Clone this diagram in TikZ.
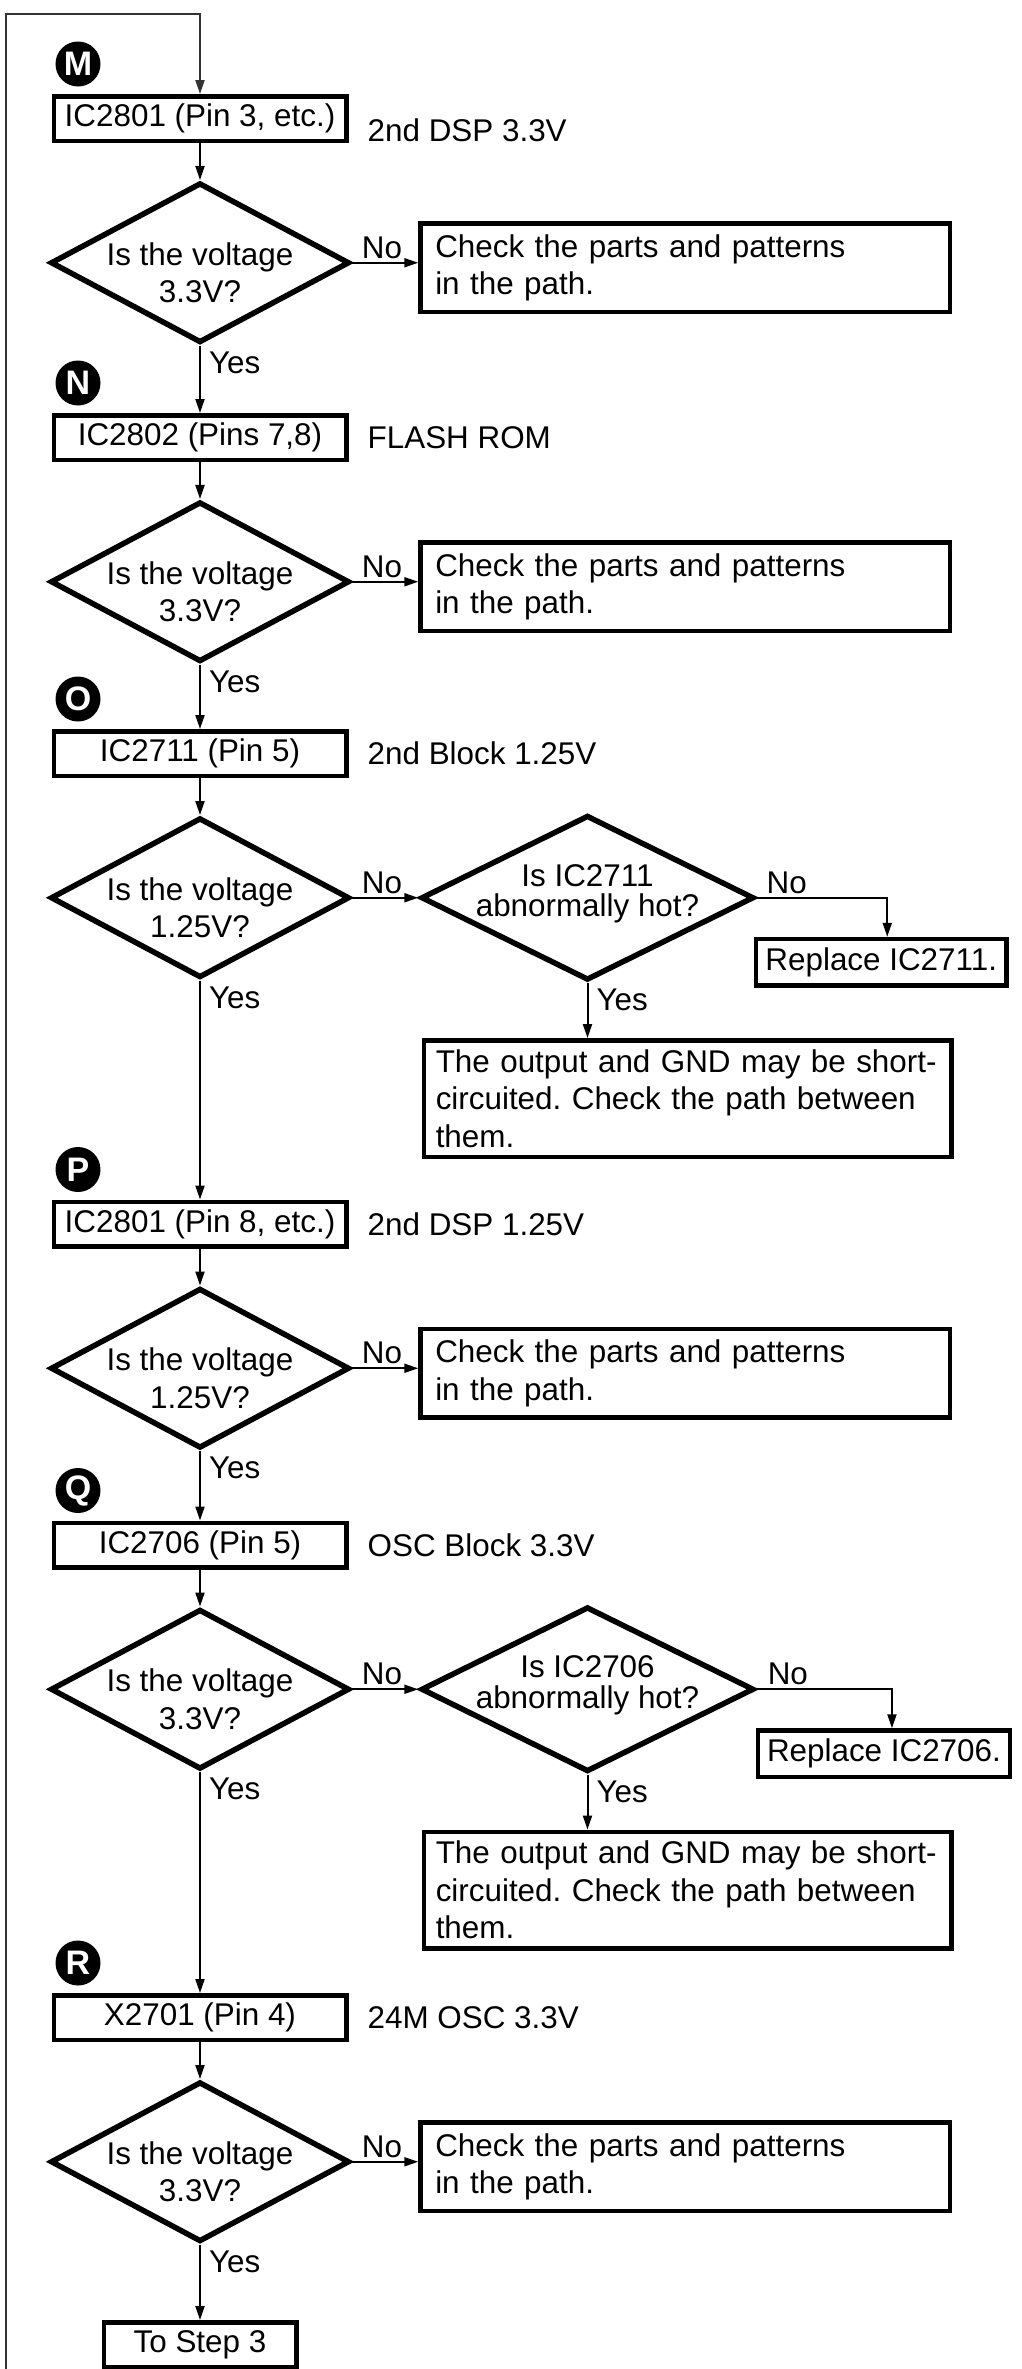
\documentclass[tikz,border=0pt]{standalone}
\usepackage{fontspec}
\setmainfont{Liberation Sans}
\usetikzlibrary{arrows.meta,positioning,shapes.geometric}
\frenchspacing

\begin{document}
\begin{tikzpicture}[
  x=1pt, y=-1pt,
  font=\fontsize{31.4}{37.5}\selectfont,
  box/.style={draw, line width=4.5pt, minimum width=292.5pt, minimum height=44.5pt, inner xsep=4pt, inner ysep=2pt},
  endbox/.style={box, minimum width=192.5pt},
  dia/.style={draw, diamond, line width=5.5pt, minimum width=299pt, minimum height=160pt, inner sep=0pt},
  hot/.style={dia, minimum width=333pt, minimum height=165pt},
  qtxt/.style={align=center, yshift=-10pt},
  htxt/.style={align=center, yshift=4pt},
  chk/.style={draw, line width=4.5pt, minimum width=529.5pt, minimum height=88.5pt, text width=500pt, align=left, inner xsep=14.75pt, inner ysep=0pt},
  outbox/.style={draw, line width=4.5pt, minimum width=527.5pt, minimum height=116.5pt, text width=503.5pt, align=left, inner xsep=12pt, inner ysep=0pt},
  rep/.style={draw, line width=4.5pt, minimum width=250.5pt, minimum height=46.5pt, inner xsep=9pt, inner ysep=0pt},
  tag/.style={circle, fill=black, text=white, minimum size=45pt, inner sep=0pt, font=\fontsize{34}{34}\selectfont\bfseries},
  side/.style={anchor=west, inner sep=2pt},
  arr/.style={-{Triangle[length=14pt, width=9pt]}, line width=2pt},
  no/.style={above},
  yes/.style={anchor=west, pos=0, inner xsep=8pt, yshift=-17pt}
]
\fill[white] (0,0) rectangle (1021,2369);
\useasboundingbox (0,0) rectangle (1021,2369);

\node[box] (bM) at (200,118.5) {IC2801 (Pin 3, etc.)};
\node[side, right=17pt of bM, yshift=-12pt] (lM) {2nd DSP 3.3V};
\node[tag] (tM) at ([xshift=26.5pt, yshift=30pt]bM.north west) {M};
\node[dia, below=37pt of bM, label={[qtxt]center:{Is the voltage\\3.3V?}}] (dM) {};
\node[chk, right=66pt of dM, yshift=-5pt] (cM) {Check the parts and patterns\\in the path.};

\node[box] (bN) at (200,437.5) {IC2802 (Pins 7,8)};
\node[side, right=17pt of bN] (lN) {FLASH ROM};
\node[tag] (tN) at ([xshift=26.5pt, yshift=30pt]bN.north west) {N};
\node[dia, below=37pt of bN, label={[qtxt]center:{Is the voltage\\3.3V?}}] (dN) {};
\node[chk, right=66pt of dN, yshift=-5pt] (cN) {Check the parts and patterns\\in the path.};

\node[box] (bO) at (200,753.5) {IC2711 (Pin 5)};
\node[side, right=17pt of bO] (lO) {2nd Block 1.25V};
\node[tag] (tO) at ([xshift=26.5pt, yshift=30pt]bO.north west) {O};
\node[dia, below=37pt of bO, label={[qtxt]center:{Is the voltage\\1.25V?}}] (dO) {};
\node[hot, right=66pt of dO, label={[htxt]center:{Is IC2711\\[-7pt]abnormally hot?}}] (hO) {};
\node[rep, below=39pt of hO.east, anchor=north west, xshift=-3pt] (rO) {Replace IC2711.};
\node[outbox, below=55pt of hO, xshift=100pt] (kO) {The output and GND may be short-\\circuited. Check the path between\\them.};

\node[box] (bP) at (200,1224) {IC2801 (Pin 8, etc.)};
\node[side, right=17pt of bP] (lP) {2nd DSP 1.25V};
\node[tag] (tP) at ([xshift=26.5pt, yshift=30pt]bP.north west) {P};
\node[dia, below=37pt of bP, label={[qtxt]center:{Is the voltage\\1.25V?}}] (dP) {};
\node[chk, right=66pt of dP, yshift=-5pt] (cP) {Check the parts and patterns\\in the path.};

\node[box] (bQ) at (200,1545) {IC2706 (Pin 5)};
\node[side, right=17pt of bQ] (lQ) {OSC Block 3.3V};
\node[tag] (tQ) at ([xshift=26.5pt, yshift=30pt]bQ.north west) {Q};
\node[dia, below=37pt of bQ, label={[qtxt]center:{Is the voltage\\3.3V?}}] (dQ) {};
\node[hot, right=66pt of dQ, label={[htxt]center:{Is IC2706\\[-7pt]abnormally hot?}}] (hQ) {};
\node[rep, below=39pt of hQ.east, anchor=north west, xshift=-1pt] (rQ) {Replace IC2706.};
\node[outbox, below=55pt of hQ, xshift=100pt] (kQ) {The output and GND may be short-\\circuited. Check the path between\\them.};

\node[box] (bR) at (200,2017.5) {X2701 (Pin 4)};
\node[side, right=17pt of bR] (lR) {24M OSC 3.3V};
\node[tag] (tR) at ([xshift=26.5pt, yshift=30pt]bR.north west) {R};
\node[dia, below=37pt of bR, label={[qtxt]center:{Is the voltage\\3.3V?}}] (dR) {};
\node[chk, right=66pt of dR, yshift=-5pt] (cR) {Check the parts and patterns\\in the path.};

\node[endbox] (bEnd) at (200,2344.5) {To Step 3};

\coordinate (loopB) at (6,2372);
\coordinate (loopT) at (6,14);
\draw[arr, draw=black!80] (loopB) -- (loopT) -| (bM.north);

\draw[arr] (bM) -- (dM);
\draw[arr] (dM.east) -- node[no, pos=0.45] {No} (dM.east -| cM.west);
\draw[arr] (dM.south) -- node[yes] {Yes} (bN.north);

\draw[arr] (bN) -- (dN);
\draw[arr] (dN.east) -- node[no, pos=0.45] {No} (dN.east -| cN.west);
\draw[arr] (dN.south) -- node[yes] {Yes} (bO.north);

\draw[arr] (bO) -- (dO);
\draw[arr] (dO.east) -- node[no, pos=0.45] {No} (hO.west);
\draw[arr] (hO.east) -| node[no, pos=0.115] {No} ([xshift=6pt]rO.north);
\draw[arr] (hO.south) -- node[yes] {Yes} (hO.south |- kO.north);
\draw[arr] (dO.south) -- node[yes] {Yes} (bP.north);

\draw[arr] (bP) -- (dP);
\draw[arr] (dP.east) -- node[no, pos=0.45] {No} (dP.east -| cP.west);
\draw[arr] (dP.south) -- node[yes] {Yes} (bQ.north);

\draw[arr] (bQ) -- (dQ);
\draw[arr] (dQ.east) -- node[no, pos=0.45] {No} (hQ.west);
\draw[arr] (hQ.east) -| node[no, pos=0.115] {No} ([xshift=8pt]rQ.north);
\draw[arr] (hQ.south) -- node[yes] {Yes} (hQ.south |- kQ.north);
\draw[arr] (dQ.south) -- node[yes] {Yes} (bR.north);

\draw[arr] (bR) -- (dR);
\draw[arr] (dR.east) -- node[no, pos=0.45] {No} (dR.east -| cR.west);
\draw[arr] (dR.south) -- node[yes] {Yes} (bEnd.north);
\end{tikzpicture}
\end{document}
